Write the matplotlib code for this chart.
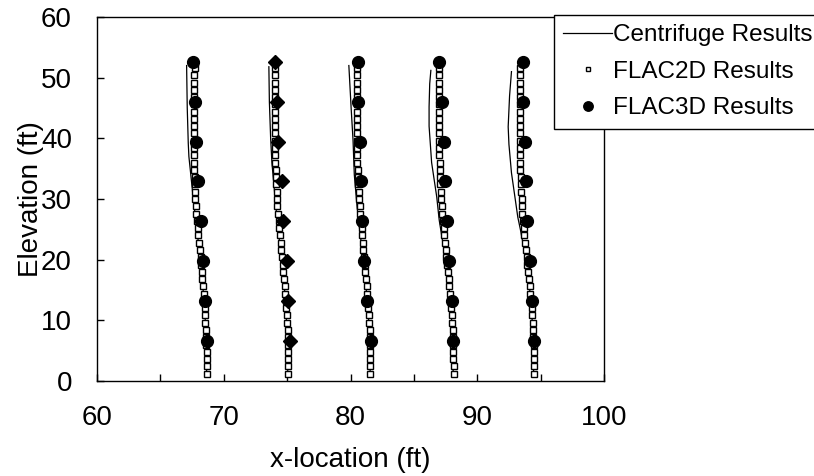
import numpy as np
import matplotlib.pyplot as plt
from matplotlib.ticker import MultipleLocator

plt.rcParams['font.family'] = ['Liberation Sans', 'DejaVu Sans']

# FLAC2D square points: elevations shared by all five columns
elev_2d = [1.2, 2.4, 3.6, 4.8, 6.0, 7.2, 8.4, 9.6, 10.8, 12.0, 13.2, 14.4, 15.6,
           16.8, 18.0, 19.2, 20.4, 21.6, 22.8, 24.0, 25.2, 26.4, 27.6, 28.8,
           30.0, 31.2, 32.4, 33.6, 34.8, 36.0, 37.2, 38.4, 39.6, 40.8, 42.0,
           43.2, 44.4, 45.6, 46.8, 48.0, 49.2, 50.4, 51.6]

x2d_1 = [68.65, 68.65, 68.65, 68.64, 68.62, 68.60, 68.58, 68.55, 68.52, 68.49, 68.46,
         68.42, 68.37, 68.32, 68.27, 68.22, 68.17, 68.11, 68.05, 67.99, 67.93, 67.88,
         67.84, 67.80, 67.77, 67.74, 67.72, 67.70, 67.68, 67.67, 67.66, 67.65, 67.65,
         67.65, 67.65, 67.66, 67.66, 67.67, 67.67, 67.68, 67.68, 67.69, 67.70]
x2d_2 = [75.08, 75.08, 75.07, 75.07, 75.06, 75.05, 75.03, 75.00, 74.97, 74.93, 74.89,
         74.85, 74.80, 74.75, 74.70, 74.65, 74.60, 74.54, 74.48, 74.42, 74.37, 74.32,
         74.28, 74.24, 74.20, 74.17, 74.14, 74.12, 74.10, 74.08, 74.07, 74.06, 74.05,
         74.05, 74.04, 74.04, 74.04, 74.05, 74.05, 74.05, 74.06, 74.06, 74.07]
x2d_3 = [81.56, 81.56, 81.55, 81.55, 81.54, 81.52, 81.50, 81.47, 81.44, 81.40, 81.36,
         81.32, 81.27, 81.22, 81.17, 81.12, 81.07, 81.02, 80.97, 80.92, 80.87, 80.82,
         80.77, 80.73, 80.69, 80.65, 80.62, 80.59, 80.57, 80.55, 80.53, 80.52, 80.51,
         80.50, 80.50, 80.49, 80.49, 80.49, 80.50, 80.50, 80.51, 80.51, 80.52]
x2d_4 = [88.13, 88.13, 88.12, 88.12, 88.11, 88.10, 88.07, 88.04, 88.00, 87.96, 87.91,
         87.86, 87.81, 87.75, 87.69, 87.63, 87.57, 87.51, 87.45, 87.39, 87.34, 87.29,
         87.24, 87.20, 87.16, 87.13, 87.10, 87.07, 87.05, 87.03, 87.02, 87.01, 87.00,
         86.99, 86.99, 86.98, 86.98, 86.98, 86.98, 86.98, 86.99, 86.99, 87.00]
x2d_5 = [94.46, 94.46, 94.45, 94.45, 94.44, 94.43, 94.40, 94.37, 94.33, 94.29, 94.24,
         94.19, 94.14, 94.08, 94.02, 93.96, 93.90, 93.84, 93.78, 93.72, 93.67, 93.62,
         93.57, 93.53, 93.50, 93.47, 93.44, 93.42, 93.40, 93.38, 93.37, 93.36, 93.35,
         93.35, 93.34, 93.34, 93.34, 93.34, 93.35, 93.35, 93.35, 93.36, 93.36]

# FLAC3D points
elev_3d = [6.6, 13.2, 19.7, 26.3, 32.9, 39.4, 46.0, 52.6]
x3d_1 = [68.70, 68.50, 68.40, 68.20, 68.00, 67.80, 67.70, 67.60]
x3d_2 = [75.20, 75.09, 74.96, 74.70, 74.58, 74.30, 74.17, 74.08]   # diamonds
x3d_3 = [81.60, 81.30, 81.10, 80.90, 80.85, 80.75, 80.62, 80.60]
x3d_4 = [88.10, 87.97, 87.76, 87.58, 87.47, 87.37, 87.23, 87.00]
x3d_5 = [94.46, 94.30, 94.15, 93.90, 93.83, 93.75, 93.60, 93.60]

# centrifuge curves
cf_1_x = [68.65, 68.60, 68.45, 68.10, 67.60, 67.25, 67.20, 67.12, 67.07]
cf_1_y = [1.5, 8.0, 13.3, 21.0, 30.0, 37.0, 39.2, 45.0, 52.0]
cf_2_x = [75.05, 75.00, 74.85, 74.50, 74.10, 73.80, 73.70, 73.60, 73.56]
cf_2_y = [1.5, 8.0, 14.0, 21.0, 29.0, 36.0, 40.0, 46.0, 51.8]
cf_3_x = [81.55, 81.50, 81.30, 80.95, 80.55, 80.30, 80.20, 80.05, 79.87]
cf_3_y = [1.5, 8.0, 14.0, 21.0, 28.0, 34.0, 39.7, 45.0, 52.0]
cf_4_x = [88.10, 88.05, 87.85, 87.50, 87.00, 86.80, 86.40, 86.20, 86.20, 86.25, 86.34]
cf_4_y = [1.5, 8.0, 14.0, 20.0, 26.5, 30.4, 36.0, 42.0, 45.2, 49.0, 51.2]
cf_5_x = [94.45, 94.40, 94.20, 93.85, 93.40, 93.20, 92.70, 92.50, 92.44, 92.55, 92.70]
cf_5_y = [1.5, 8.0, 14.0, 20.0, 25.0, 27.0, 34.3, 39.0, 41.9, 47.0, 51.0]

fig = plt.figure(figsize=(8.14, 4.76), dpi=100)
ax = fig.add_axes([97/814, 1-381/476, (604-97)/814, (381-17)/476])

cf = [(cf_1_x, cf_1_y), (cf_2_x, cf_2_y), (cf_3_x, cf_3_y), (cf_4_x, cf_4_y), (cf_5_x, cf_5_y)]
for i, (cx, cy) in enumerate(cf):
    ax.plot(cx, cy, color='black', lw=0.9, label='Centrifuge Results' if i == 0 else None, zorder=2)

for i, xs in enumerate([x2d_1, x2d_2, x2d_3, x2d_4, x2d_5]):
    ax.plot(xs, elev_2d, ls='none', marker='s', ms=4.2, mfc='white', mec='black', mew=1.0,
            label='FLAC2D Results' if i == 0 else None, zorder=3)

for i, xs in enumerate([x3d_1, x3d_3, x3d_4, x3d_5]):
    ax.plot(xs, elev_3d, ls='none', marker='o', ms=8.5, color='black',
            label='FLAC3D Results' if i == 0 else None, zorder=4)
ax.plot(x3d_2, elev_3d, ls='none', marker='D', ms=7, color='black', zorder=4)

ax.set_xlim(60, 100)
ax.set_ylim(0, 60)
ax.xaxis.set_major_locator(MultipleLocator(10))
ax.xaxis.set_minor_locator(MultipleLocator(5))
ax.yaxis.set_major_locator(MultipleLocator(10))
ax.tick_params(axis='both', which='both', direction='in', length=5, width=1,
               labelsize=20, top=False, right=False)
ax.tick_params(axis='y', pad=18)
ax.tick_params(axis='x', pad=17)
for s in ax.spines.values():
    s.set_linewidth(1)
ax.set_xlabel('x-location (ft)', fontsize=20, labelpad=12)
ax.set_ylabel('Elevation (ft)', fontsize=20, labelpad=-2)

leg = fig.legend(loc='upper left', bbox_to_anchor=(554/814, 1-15/476), fontsize=17.5,
                 frameon=True, fancybox=False, edgecolor='black', framealpha=1,
                 borderaxespad=0, handlelength=2.0, handletextpad=0.05,
                 labelspacing=0.6, borderpad=0.38, markerscale=0.8)
leg.get_frame().set_linewidth(1)

fig.savefig('out.png', dpi=100)
